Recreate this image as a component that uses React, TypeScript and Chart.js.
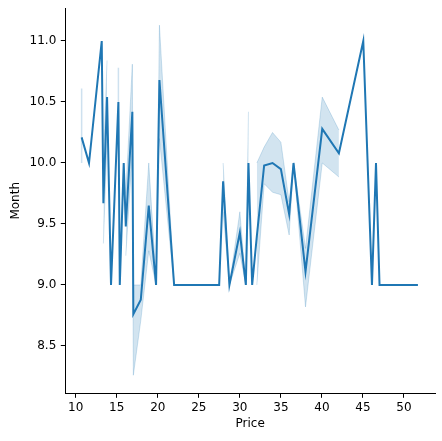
import React, { useEffect, useRef } from "react";
import { Chart, registerables } from "chart.js";

Chart.register(...registerables);

// Unique prices (x), mean month (y) and confidence interval bounds (null = no interval)
const price = [10.72, 11.62, 13.17, 13.37, 13.82, 14.3, 15.2, 15.37, 15.85, 16.1, 16.9, 17.02, 17.93, 18.9, 19.79, 19.9, 20.2, 21.99, 27.48, 27.96, 28.73, 30.0, 30.73, 31.05, 31.5, 32.07, 32.96, 33.98, 35.0, 36.01, 36.54, 38.0, 40.04, 42.07, 45.04, 46.1, 46.59, 47.02, 51.7];
const month = [10.21, 10.0, 11.0, 9.67, 10.54, 9.0, 10.5, 9.0, 10.0, 9.48, 10.42, 8.76, 8.88, 9.65, 9.0, 9.0, 10.68, 9.0, 9.0, 9.85, 9.0, 9.43, 9.0, 10.0, 9.0, 9.4, 9.98, 10.0, 9.95, 9.58, 10.0, 9.11, 10.28, 10.08, 11.0, 9.0, 10.0, 9.0, 9.0];
const ciLow: (number | null)[] = [10.0, null, null, 9.34, 10.2, null, 10.2, null, null, 9.24, 10.1, 8.26, 8.71, 9.28, 9.0, 9.0, 10.2, 9.0, null, 9.6, 9.0, 9.26, 9.0, 9.7, null, 9.0, 9.83, 9.76, 9.74, 9.41, 10.0, 8.82, 10.0, 9.885, null, null, null, null, null];
const ciHigh: (number | null)[] = [10.61, null, null, 10.0, 10.84, null, 10.78, null, null, 9.75, 10.81, 9.0, 9.0, 10.0, 9.0, 9.0, 11.13, 9.0, null, 10.0, 9.0, 9.6, 9.0, 10.42, null, 10.0, 10.13, 10.25, 10.17, 9.68, 10.0, 9.3, 10.54, 10.27, null, null, null, null, null];

const xTitle = "Price";
const yTitle = "Month";
const xMin = 8.73;
const xMax = 53.78;
const yMin = 8.112;
const yMax = 11.268;

const LINE = "#1f77b4";
const BAND = "rgba(31,119,180,0.2)";
const FONT = { family: "'DejaVu Sans', sans-serif", size: 12 };

export default function App() {
  const ref = useRef<HTMLCanvasElement | null>(null);

  useEffect(() => {
    if (!ref.current) return;
    const n = price.length;
    const lineData = price.map((p, i) => ({ x: p, y: month[i] }));
    const hiData = price.map((p, i) => ({ x: p, y: ciHigh[i] }));
    const loData = price.map((p, i) => ({ x: p, y: ciLow[i] }));
    const whisker: { x: number; y: number | null }[] = [];
    for (let i = 0; i < n; i++) {
      if (ciLow[i] == null) continue;
      const prevNull = i === 0 || ciLow[i - 1] == null;
      const nextNull = i === n - 1 || ciLow[i + 1] == null;
      if (prevNull && nextNull) {
        whisker.push({ x: price[i], y: ciLow[i] as number });
        whisker.push({ x: price[i], y: ciHigh[i] as number });
        whisker.push({ x: price[i], y: null });
      }
    }

    const chart = new Chart(ref.current, {
      type: "line",
      data: {
        datasets: [
          {
            data: lineData,
            borderColor: LINE,
            borderWidth: 2,
            pointRadius: 0,
            fill: false,
            order: 0,
          },
          {
            data: hiData,
            borderColor: BAND,
            borderWidth: 1,
            pointRadius: 0,
            fill: false,
            spanGaps: false,
            order: 1,
          },
          {
            data: loData,
            borderColor: BAND,
            backgroundColor: BAND,
            borderWidth: 1,
            pointRadius: 0,
            fill: "-1",
            spanGaps: false,
            order: 1,
          },
          {
            data: whisker,
            borderColor: "rgba(31,119,180,0.22)",
            borderWidth: 1.5,
            pointRadius: 0,
            fill: false,
            spanGaps: false,
            order: 2,
          },
        ] as any,
      },
      options: {
        animation: false,
        responsive: false,
        layout: { padding: { left: 0, top: 8.3, right: 7, bottom: 0 } },
        plugins: { legend: { display: false }, tooltip: { enabled: false } },
        scales: {
          x: {
            type: "linear",
            min: xMin,
            max: xMax,
            afterFit: (s: any) => {
              s.height = 47.7;
              s.paddingLeft = 0;
              s.paddingRight = 0;
            },
            border: { color: "#000", width: 1 },
            grid: { drawOnChartArea: false, drawTicks: true, tickLength: 4.5, tickColor: "#000", tickWidth: 1 },
            ticks: {
              stepSize: 5,
              includeBounds: false,
              padding: 3,
              color: "#000",
              font: FONT,
              maxRotation: 0,
              callback: (v: any) => String(v),
            },
            title: { display: true, text: xTitle, color: "#000", font: FONT, padding: { top: 0, bottom: 9.5 } },
          },
          y: {
            type: "linear",
            min: yMin,
            max: yMax,
            afterFit: (s: any) => {
              s.width = 65.3;
              s.paddingTop = 0;
              s.paddingBottom = 0;
            },
            border: { color: "#000", width: 1 },
            grid: { drawOnChartArea: false, drawTicks: true, tickLength: 4.5, tickColor: "#000", tickWidth: 1 },
            ticks: {
              stepSize: 0.5,
              includeBounds: false,
              padding: 4.5,
              color: "#000",
              font: FONT,
              callback: (v: any) => Number(v).toFixed(1),
            },
            title: { display: true, text: yTitle, color: "#000", font: FONT, padding: { top: 8.8, bottom: 0 } },
          },
        },
      } as any,
    });
    return () => chart.destroy();
  }, []);

  return (
    <div style={{ position: "absolute", left: 0, top: 0, width: 442, height: 441, background: "#fff" }}>
      <canvas ref={ref} width={442} height={441} style={{ width: 442, height: 441 }} />
    </div>
  );
}
